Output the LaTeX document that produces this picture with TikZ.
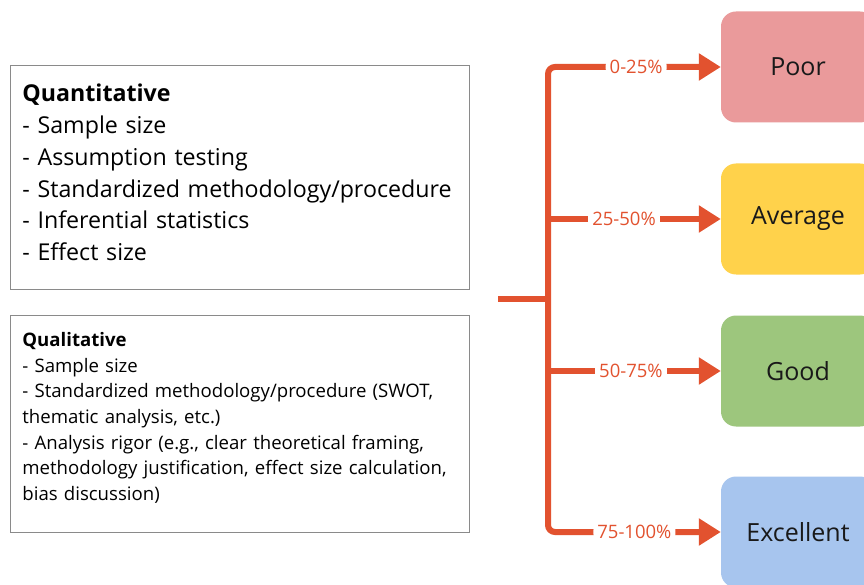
\documentclass[tikz,border=0pt]{standalone}
\usepackage{fontspec}
\setmainfont{Open Sans}
\usetikzlibrary{arrows.meta,positioning,calc}
\definecolor{rateRed}{HTML}{E2522F}
\definecolor{ratePoor}{HTML}{EA9A9B}
\definecolor{rateAvg}{HTML}{FFD24B}
\definecolor{rateGood}{HTML}{9DC67D}
\definecolor{rateExc}{HTML}{A7C5EE}
\definecolor{boxGray}{HTML}{8A8A8A}
\tikzset{
  % Criteria boxes on the left.
  crit/box/.style={
    draw=boxGray, fill=white, line width=0.8pt, anchor=north west,
    align=left, minimum width=459pt, inner xsep=12pt, inner ysep=0pt,
    text width=435pt, text=black
  },
  % Rating boxes on the right.
  crit/rate/.style={
    rounded corners=15pt, minimum width=154pt, minimum height=111pt,
    font=\fontsize{25}{30}\selectfont, text=black!90, inner sep=0pt
  },
  % Connectors.
  crit/line/.style={draw=rateRed, line width=6pt},
  crit/arrow/.style={
    crit/line, -{Triangle[length=22pt,width=26pt]}
  },
  crit/pct/.style={
    font=\fontsize{18.5}{20}\selectfont, text=rateRed, fill=white,
    inner xsep=4pt, inner ysep=2pt
  },
}

\begin{document}
\begin{tikzpicture}[x=1pt,y=-1pt]
  \useasboundingbox[fill=white] (0,0) rectangle (864,585);
  \clip (0,0) rectangle (864,585);
  % criteria
  \node[crit/box, minimum height=224pt, font=\fontsize{23.2}{31.8}\selectfont]
       (quant) at (10,65)
       {\textbf{Quantitative}\\- Sample size\\- Assumption testing\\
        - Standardized methodology/procedure\\- Inferential statistics\\
        - Effect size\rule[-10pt]{0pt}{1pt}};
  \node[crit/box, minimum height=217pt, font=\fontsize{18.6}{25.7}\selectfont]
       (qual) at (10,315)
       {\textbf{Qualitative}\\- Sample size\\- Standardized methodology/procedure (SWOT,\\
        thematic analysis, etc.)\\- Analysis rigor (e.g., clear theoretical framing,\\
        methodology justification, effect size calculation,\\
        bias discussion)\rule[-15pt]{0pt}{1pt}};
  % ratings
  \node[crit/rate, fill=ratePoor] (poor)      at (798,67)  {Poor};
  \node[crit/rate, fill=rateAvg]  (average)   at (798,219) {Average};
  \node[crit/rate, fill=rateGood] (good)      at (798,371) {Good};
  \node[crit/rate, fill=rateExc]  (excellent) at (798,532) {Excellent};
  % tree
  \coordinate (stub) at (498,299);
  \coordinate (jtop) at (548,67);
  \coordinate (jbot) at (548,532);
  \draw[crit/line] (stub) -- (stub -| jtop);
  \draw[crit/line, {Triangle[length=22pt,width=26pt]}-{Triangle[length=22pt,width=26pt]},
        rounded corners=7pt]
    (poor.west) -- node[crit/pct, pos=0.49] {0-25\%} (jtop)
    -- (jbot) -- node[crit/pct, pos=0.5] {75-100\%} (excellent.west);
  \draw[crit/arrow] (average.west -| jtop) -- node[crit/pct, pos=0.44] {25-50\%} (average.west);
  \draw[crit/arrow] (good.west -| jtop) -- node[crit/pct, pos=0.48] {50-75\%} (good.west);
\end{tikzpicture}
\end{document}
